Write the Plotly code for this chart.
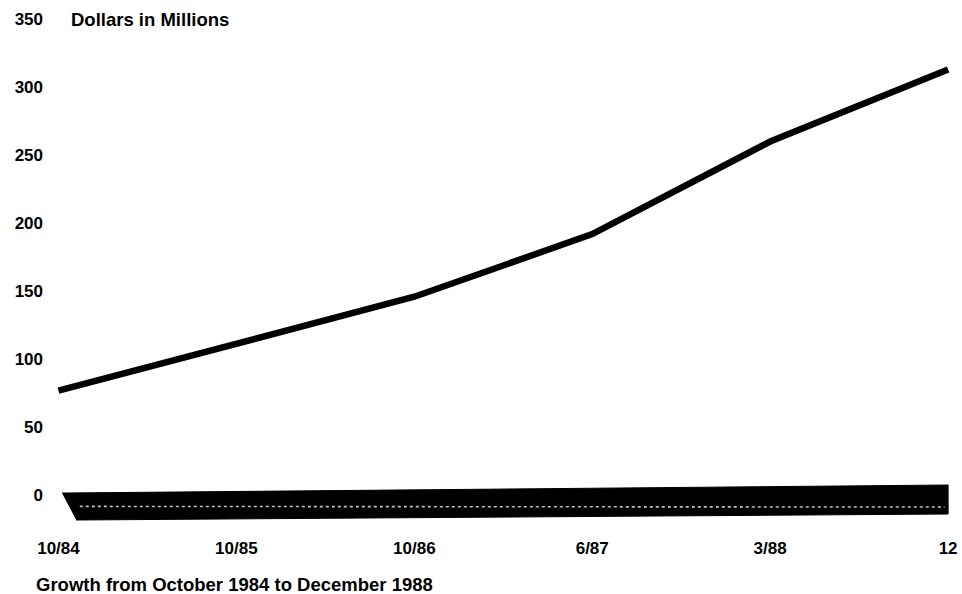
import plotly.graph_objects as go

# ---- data ----
categories = ["10/84", "10/85", "10/86", "6/87", "3/88", "12"]
values = [77, 111, 146, 192, 260, 313]          # dollars in millions
y_tick_values = [0, 50, 100, 150, 200, 250, 300, 350]
y_tick_labels = ["0", "50", "100", "150", "200", "250", "300", "350"]

title_text = "Dollars in Millions"
caption_text = "Growth from October 1984 to December 1988"

# ---- layout / style ----
W, H = 962, 594
ML, MR, MT, MB = 46, 5, 11, 68
X_RANGE = [-0.07, 5.05]
Y_RANGE = [-22.4, 355.9]
FONT = "Liberation Sans, Arial, Helvetica, sans-serif"
INK = "#000000"

idx = list(range(len(categories)))

# decorative dark base under the zero line (scanned 3-D floor)
first, last = idx[0], idx[-1]
base_x = [first + 0.02, last, last, first + 0.10]
base_y = [1.8, 7.7, -13.6, -18.0]
streak_x = [first + 0.12, last - 0.02]
streak_y = [-8.0, -8.5]

fig = go.Figure()

fig.add_trace(go.Scatter(
    x=base_x, y=base_y, mode="lines", fill="toself",
    fillcolor=INK, line=dict(color=INK, width=1),
    hoverinfo="skip", showlegend=False))

fig.add_trace(go.Scatter(
    x=streak_x, y=streak_y, mode="lines",
    line=dict(color="rgba(255,255,255,0.75)", width=1.6, dash="dot"),
    hoverinfo="skip", showlegend=False))

fig.add_trace(go.Scatter(
    x=idx, y=values, mode="lines",
    line=dict(color=INK, width=6.5),
    showlegend=False, name="Dollars in Millions"))

plot_w = W - ML - MR
plot_h = H - MT - MB
plot_bottom = H - MB


def px_to_paper_x(px):
    return (px - ML) / plot_w


def px_to_paper_y(py):
    return (plot_bottom - py) / plot_h


fig.add_annotation(
    text=title_text, xref="paper", yref="y",
    x=px_to_paper_x(69), y=y_tick_values[-1],
    xanchor="left", yanchor="middle", showarrow=False,
    font=dict(family=FONT, size=18.5, color=INK, weight="bold"))

fig.add_annotation(
    text=caption_text, xref="paper", yref="paper",
    x=px_to_paper_x(34), y=px_to_paper_y(584),
    xanchor="left", yanchor="middle", showarrow=False,
    font=dict(family=FONT, size=18.5, color=INK, weight="bold"))

fig.update_layout(
    width=W, height=H,
    margin=dict(l=ML, r=MR, t=MT, b=MB, autoexpand=False),
    paper_bgcolor="white", plot_bgcolor="white",
    showlegend=False,
    xaxis=dict(
        range=X_RANGE, tickmode="array", tickvals=idx, ticktext=categories,
        showgrid=False, zeroline=False, showline=False, ticks="",
        ticklabelstandoff=10,
        tickfont=dict(family=FONT, size=17, color=INK, weight="bold"),
        fixedrange=True),
    yaxis=dict(
        range=Y_RANGE, tickmode="array", tickvals=y_tick_values,
        ticktext=y_tick_labels,
        showgrid=False, zeroline=False, showline=False, ticks="",
        ticklabelstandoff=2,
        tickfont=dict(family=FONT, size=17, color=INK, weight="bold"),
        fixedrange=True),
)

fig.write_html(
    "out.html",
    config={"displayModeBar": False},
    post_script="document.body.style.margin='0';document.body.style.overflow='hidden';",
)
